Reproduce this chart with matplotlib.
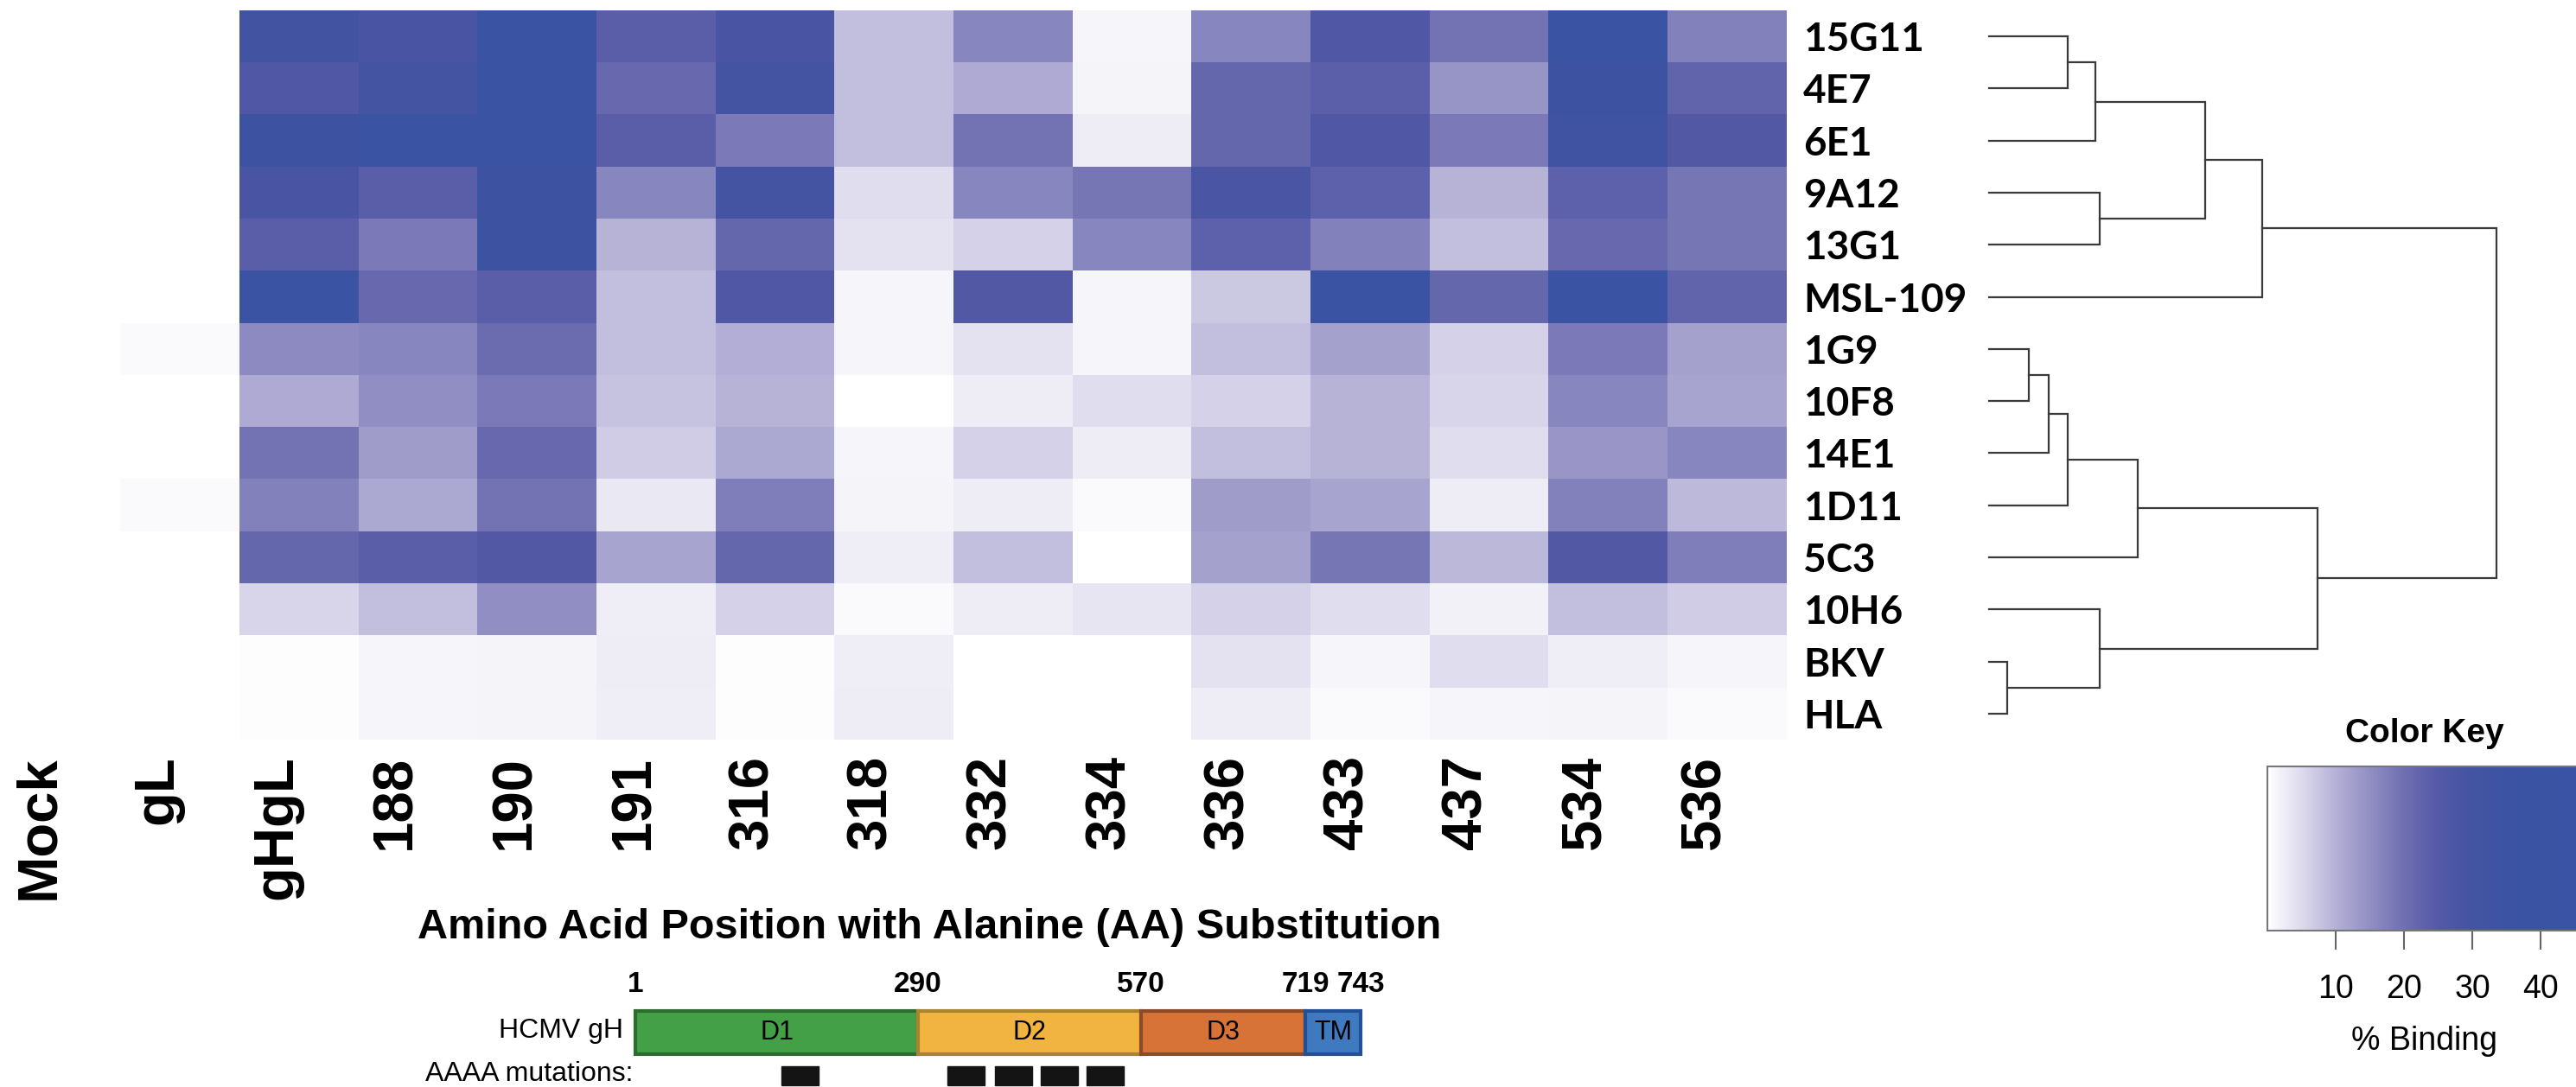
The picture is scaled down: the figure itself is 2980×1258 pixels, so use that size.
import numpy as np
import matplotlib
matplotlib.use("Agg")
import matplotlib.pyplot as plt
from matplotlib import font_manager
from matplotlib.colors import LinearSegmentedColormap, Normalize
from matplotlib.cm import ScalarMappable
from matplotlib.patches import Rectangle

# data
columns = ["Mock", "gL", "gHgL", "188", "190", "191", "316", "318",
           "332", "334", "336", "433", "437", "534", "536"]
antibodies = ["15G11", "4E7", "6E1", "9A12", "13G1", "MSL-109", "1G9",
              "10F8", "14E1", "1D11", "5C3", "10H6", "BKV", "HLA"]

binding_15G11 = [0, 0, 31, 28.5, 42, 23.8, 28.5, 8.3, 16.3, 1.3, 16.3, 26, 19.5, 42, 17]
binding_4E7 = [0, 0, 26, 29.5, 42, 21.3, 30, 8.3, 10.8, 1.5, 21.8, 23.5, 14.2, 34, 22.5]
binding_6E1 = [0, 0, 34, 42, 42, 23.8, 18.3, 8.3, 19.5, 2.5, 21.8, 26, 18.3, 32, 25.3]
binding_9A12 = [0, 0, 28.5, 23.8, 34, 16.3, 29.5, 4.3, 16.3, 18.8, 27.8, 23.3, 9.6, 23.3, 18.8]
binding_13G1 = [0, 0, 23.8, 18.3, 34, 9.6, 21.8, 3.8, 6, 16.3, 23.3, 17, 8.3, 21.3, 18.8]
binding_MSL109 = [0, 0, 42, 21.3, 23.8, 8.3, 26, 1.3, 25.3, 1.3, 7.2, 42, 21.8, 42, 22.5]
binding_1G9 = [0, 0.6, 15.5, 16.3, 20.6, 8.3, 10.3, 1.3, 3.8, 1.3, 8.3, 12.3, 6, 18.3, 12.3]
binding_10F8 = [0, 0, 10.8, 15, 18.3, 7.8, 9.6, 0, 2.5, 4.3, 6, 9.6, 5.5, 16.3, 11.8]
binding_14E1 = [0, 0, 19.5, 13, 21.3, 6.6, 11.3, 1.3, 6, 2.5, 8.3, 9.6, 4.3, 13.7, 16.3]
binding_1D11 = [0, 0.6, 17, 11.3, 19.5, 3, 17.4, 1.5, 2.5, 0.6, 13, 11.8, 2.5, 17, 8.8]
binding_5C3 = [0, 0, 21.8, 23.8, 25.3, 11.8, 21.8, 2.2, 8.3, 0, 12.3, 18.8, 9, 25.3, 17.6]
binding_10H6 = [0, 0, 5.5, 8.3, 15, 2.2, 6, 0.6, 2.5, 3.5, 6, 4.3, 1.8, 8.3, 6.6]
binding_BKV = [0, 0, 0.2, 1.3, 1.5, 2.5, 0.2, 2.2, 0, 0, 3.8, 1.3, 4.3, 2.2, 1.3]
binding_HLA = [0, 0, 0.2, 1.3, 1.5, 2.2, 0.2, 2.5, 0, 0, 2.5, 0.6, 1.3, 1.5, 0.6]

# row dendrogram merges: (left, right, height); ids >= 14 are earlier merges
merges = [
    (0, 1, 15.5), (14, 2, 21.0), (3, 4, 21.8), (15, 16, 42.6), (17, 5, 53.8),
    (6, 7, 7.8), (19, 8, 11.8), (20, 9, 15.5), (21, 10, 29.3),
    (12, 13, 3.6), (11, 23, 21.8), (22, 24, 64.7), (18, 25, 100.0),
]

key_ticks = [10, 20, 30, 40]
aa_edges = [1, 290, 570, 719, 743]
domains = ["D1", "D2", "D3", "TM"]
mutation_groups = ["188-191", "316-318", "332-336", "433-437", "534-536"]

# layout (pixels of the 2980x1258 canvas)
W, H = 2980, 1258
domain_draw = [0, 327, 585, 775, 839]
mut_draw = [169, 361, 416, 469, 522]
domain_face = ["#43a047", "#f2b440", "#d87337", "#3f7ac0"]
domain_edge = ["#2e6b30", "#a8842f", "#8b4a2a", "#234f95"]
label_offset = -0.19  # column labels sit a little left of the cell centres

names = {f.name for f in font_manager.fontManager.ttflist}
NARROW = "Liberation Sans Narrow" if "Liberation Sans Narrow" in names else "Liberation Sans"
ARIAL = "Liberation Sans"
ROWFONT = "Lato"

cmap = LinearSegmentedColormap.from_list("binding", [
    (0.0, "#ffffff"), (0.1, "#dcd9ec"), (0.2, "#b4b0d6"), (0.3, "#918ec3"),
    (0.4, "#6f6fb2"), (0.5, "#5459a6"), (0.6, "#4454a2"), (0.7, "#3c53a3"),
    (1.0, "#3953a4")])
norm = Normalize(0, 50)


def box(x0, y0, x1, y1):
    return [x0 / W, 1 - y1 / H, (x1 - x0) / W, (y1 - y0) / H]


fig = plt.figure(figsize=(W / 100, H / 100), dpi=100)

# heatmap
data = np.array([binding_15G11, binding_4E7, binding_6E1, binding_9A12, binding_13G1,
                 binding_MSL109, binding_1G9, binding_10F8, binding_14E1, binding_1D11,
                 binding_5C3, binding_10H6, binding_BKV, binding_HLA])
ax = fig.add_axes(box(2, 12, 2067, 856))
ax.imshow(data, cmap=cmap, norm=norm, aspect="auto", interpolation="nearest")
for s in ax.spines.values():
    s.set_visible(False)
ax.set_xticks(np.arange(len(columns)) + label_offset)
ax.set_xticklabels(columns, rotation=90, fontsize=47, fontweight="bold", family=ARIAL)
ax.tick_params(axis="x", length=0, pad=13)
ax.yaxis.tick_right()
ax.set_yticks(range(len(antibodies)))
ax.set_yticklabels(antibodies, fontsize=33, fontweight="bold", family=ROWFONT)
ax.tick_params(axis="y", length=0, pad=13.5)

# dendrogram
dax = fig.add_axes(box(2301, 12, 2888, 856))
n = len(antibodies)
ypos = {i: float(i) for i in range(n)}
hgt = {i: 0.0 for i in range(n)}
for k, (a, b, h) in enumerate(merges):
    dax.plot([hgt[a], h, h, hgt[b]], [ypos[a], ypos[a], ypos[b], ypos[b]],
             color="#3a3a3a", lw=1.6, solid_joinstyle="miter", clip_on=False)
    ypos[n + k] = (ypos[a] + ypos[b]) / 2
    hgt[n + k] = h
dax.set_xlim(0, 100)
dax.set_ylim(n - 0.5, -0.5)
dax.axis("off")

# color key
fig.text(2805 / W, 1 - 849 / H, "Color Key", ha="center", va="center",
         fontsize=28, fontweight="bold", family=ARIAL)
cax = fig.add_axes(box(2623, 887, 3018, 1077))
cb = fig.colorbar(ScalarMappable(norm=norm, cmap=cmap), cax=cax, orientation="horizontal")
cb.set_ticks(key_ticks)
cb.outline.set_edgecolor("#777777")
cb.outline.set_linewidth(1.5)
cax.tick_params(axis="x", length=16, width=1.5, color="#666666", pad=20, labelsize=27)
for lab in cax.get_xticklabels():
    lab.set_family(ARIAL)
fig.text(2805 / W, 1 - 1205 / H, "% Binding", ha="center", va="center",
         fontsize=27, family=ARIAL)

# axis title
fig.text(1075 / W, 1 - 1086 / H, "Amino Acid Position with Alanine (AA) Substitution",
         ha="center", va="baseline", fontsize=35 if NARROW == ARIAL else 40,
         fontweight="bold", family=NARROW)

# gH domain schematic
gax = fig.add_axes(box(735, 1125, 1574, 1258))
gax.set_xlim(0, domain_draw[-1])
gax.set_ylim(133, 0)
gax.axis("off")
for i, name in enumerate(domains):
    x0, x1 = domain_draw[i], domain_draw[i + 1]
    gax.add_patch(Rectangle((x0, 45), x1 - x0, 50, facecolor=domain_face[i],
                            edgecolor=domain_edge[i], lw=3, clip_on=False))
    gax.text((x0 + x1) / 2, 70, name, ha="center", va="center", fontsize=22,
             family=NARROW)
for x, aa in zip(domain_draw, aa_edges):
    gax.text(x, 15, str(aa), ha="center", va="center", fontsize=24,
             fontweight="bold", family=NARROW)
for x, grp in zip(mut_draw, mutation_groups):
    gax.add_patch(Rectangle((x, 109), 43, 22, facecolor="#141414",
                            edgecolor="#141414", lw=1, clip_on=False))
gax.text(-14, 68, "HCMV gH", ha="right", va="center", fontsize=23, family=NARROW)
gax.text(-3, 118, "AAAA mutations:", ha="right", va="center", fontsize=23, family=NARROW)

fig.savefig("out.png", dpi=100)
